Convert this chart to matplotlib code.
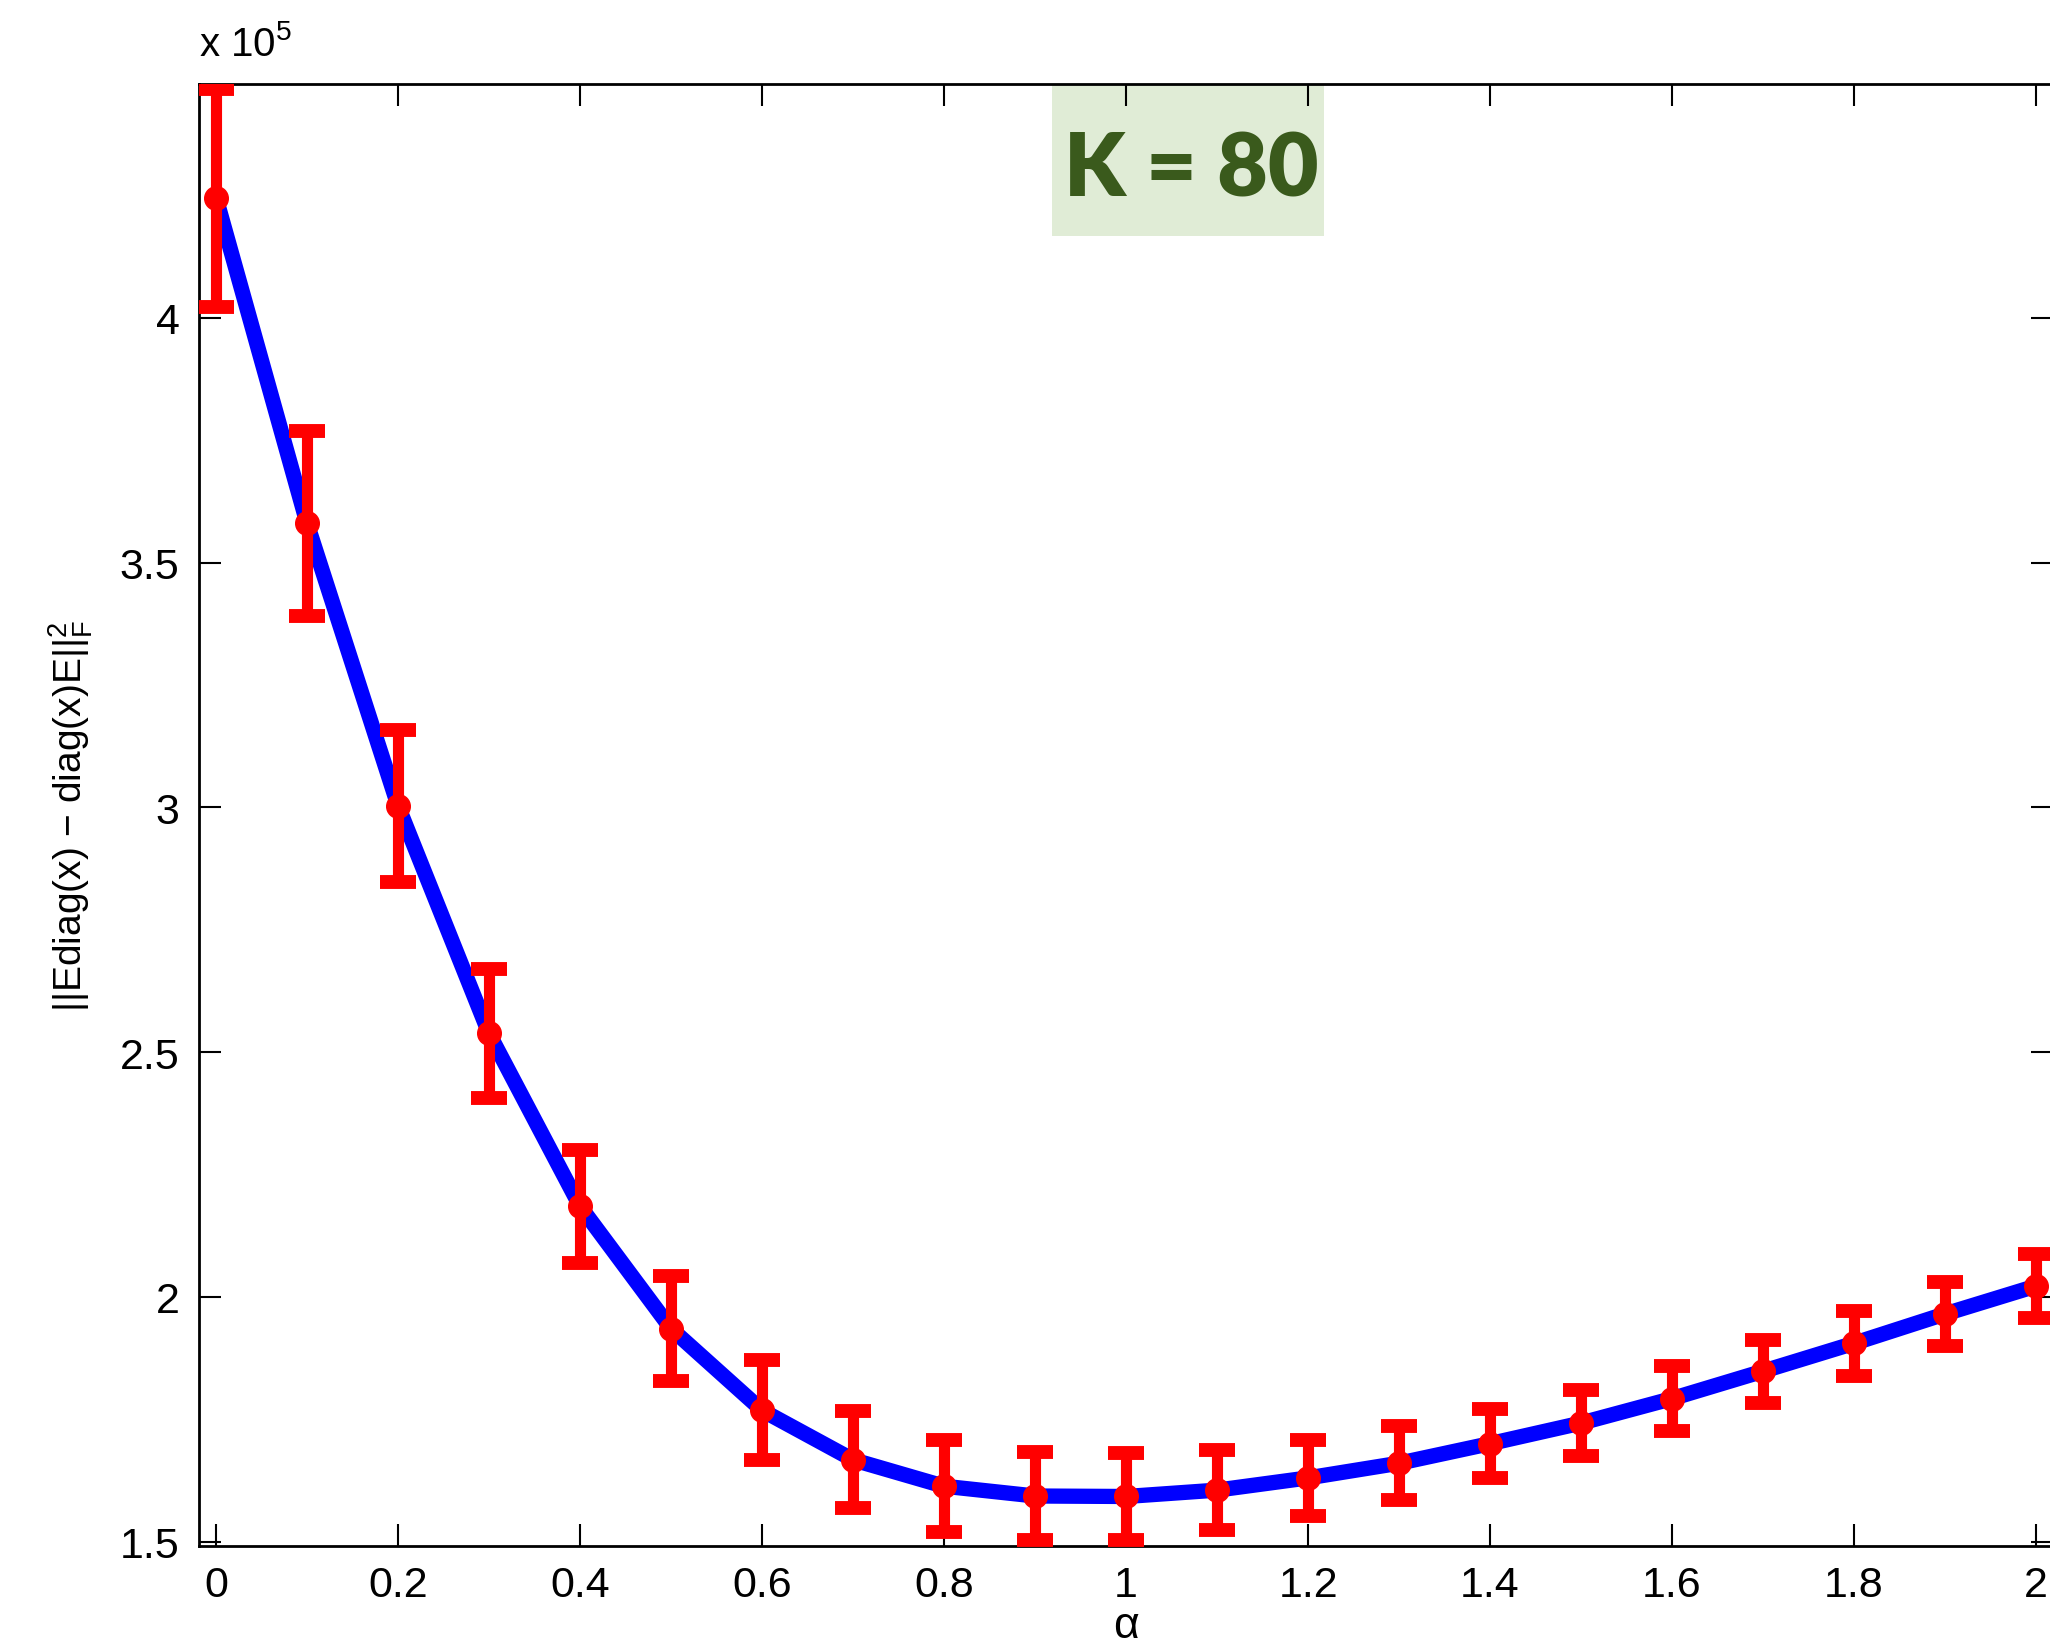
import numpy as np
import matplotlib
matplotlib.use('Agg')
import matplotlib.pyplot as plt
from matplotlib.patches import Rectangle

# alpha values and mean error (x 10^5) with error bar half-widths
alpha = [0.0, 0.1, 0.2, 0.3, 0.4, 0.5, 0.6, 0.7, 0.8, 0.9, 1.0,
         1.1, 1.2, 1.3, 1.4, 1.5, 1.6, 1.7, 1.8, 1.9, 2.0]
err_mean = [4.245, 3.580, 3.003, 2.538, 2.185, 1.935, 1.768, 1.667, 1.613, 1.593, 1.592,
            1.605, 1.630, 1.660, 1.700, 1.742, 1.792, 1.848, 1.905, 1.965, 2.022]
err_bar = [0.222, 0.189, 0.155, 0.132, 0.115, 0.108, 0.102, 0.099, 0.094, 0.090, 0.088,
           0.082, 0.078, 0.075, 0.071, 0.067, 0.066, 0.064, 0.066, 0.065, 0.066]

x_ticks = [0, 0.2, 0.4, 0.6, 0.8, 1, 1.2, 1.4, 1.6, 1.8, 2]
x_ticklabels = ['0', '0.2', '0.4', '0.6', '0.8', '1', '1.2', '1.4', '1.6', '1.8', '2']
y_ticks = [1.5, 2, 2.5, 3, 3.5, 4]
y_ticklabels = ['1.5', '2', '2.5', '3', '3.5', '4']

plt.rcParams['font.family'] = ['Liberation Sans', 'DejaVu Sans']
plt.rcParams['mathtext.default'] = 'regular'

fig = plt.figure(figsize=(20.5, 16.49), dpi=100)
ax = fig.add_axes([0.0971, 0.0619, 0.9044, 0.8866])

ax.plot(alpha, err_mean, color='#0000ff', lw=11, zorder=2)
ax.errorbar(alpha, err_mean, yerr=err_bar, fmt='o', color='#ff0000', ms=17,
            elinewidth=8, capsize=13, capthick=10, zorder=3)

ax.set_xlim(-0.0187, 2.0187)
ax.set_ylim(1.491, 4.478)
ax.set_xticks(x_ticks)
ax.set_xticklabels(x_ticklabels)
ax.set_yticks(y_ticks)
ax.set_yticklabels(y_ticklabels)
ax.tick_params(direction='in', length=16, width=1.5, labelsize=31, pad=14,
               top=True, right=True)
for s in ax.spines.values():
    s.set_linewidth(2)

ax.set_xlabel(r'$\alpha$', fontsize=32, labelpad=0)
ax.set_ylabel(r'||Ediag(x) $-$ diag(x)E$||_{F}^{2}$', fontsize=28, labelpad=18)

# scale factor label
ax.text(0.0, 1.014, r'x 10$^{5}$', transform=ax.transAxes, fontsize=29,
        ha='left', va='bottom')

# K annotation box
ax.add_patch(Rectangle((0.460, 0.896), 0.147, 0.104, transform=ax.transAxes,
                       fc='#e0ecd6', ec='none', zorder=1))
ax.text(0.535, 0.946, 'K = 80', transform=ax.transAxes, fontsize=63,
        fontweight='heavy', family='Lato', color='#3a5a1c', ha='center',
        va='center_baseline', zorder=4)

fig.savefig('out.png', dpi=100)
